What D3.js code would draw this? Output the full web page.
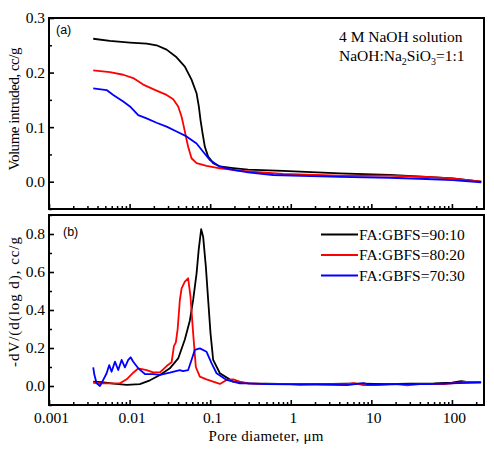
<!DOCTYPE html>
<html><head><meta charset="utf-8">
<script src="https://cdn.jsdelivr.net/npm/d3@7"></script>
<style>body{margin:0;background:#fff}svg{display:block}</style>
</head><body>
<svg id="c" width="494" height="449"></svg>
<script>
// ---- data ----
const seriesNames = ["FA:GBFS=90:10","FA:GBFS=80:20","FA:GBFS=70:30"];
const seriesColors = ["#000000","#ff0000","#0000ff"];
const xTickLabels = ["0.001","0.01","0.1","1","10","100"];
const xTickValues = [0.001,0.01,0.1,1,10,100];
const topTicks = [0.0,0.1,0.2,0.3];
const botTicks = [0.0,0.2,0.4,0.6,0.8];

// cumulative volume intruded (cc/g) vs pore diameter (µm)
const volBlack = [[0.00354,0.262],[0.0057,0.258],[0.0101,0.255],[0.0163,0.253],[0.0216,0.250],[0.0288,0.242],[0.0383,0.228],[0.0485,0.211],[0.0587,0.187],[0.0678,0.162],[0.0723,0.138],[0.0759,0.113],[0.0804,0.089],[0.0859,0.064],[0.0944,0.046],[0.109,0.034],[0.132,0.028],[0.193,0.025],[0.296,0.022],[0.8,0.020],[4.05,0.0154],[16.9,0.0123],[48,0.009],[102,0.006],[231,0.0]];
const volRed = [[0.00354,0.204],[0.0057,0.201],[0.00834,0.196],[0.0111,0.190],[0.01475,0.178],[0.0216,0.167],[0.0288,0.159],[0.0348,0.151],[0.0401,0.138],[0.0442,0.119],[0.0471,0.101],[0.0499,0.083],[0.0533,0.064],[0.0587,0.043],[0.0678,0.034],[0.0902,0.029],[0.132,0.0246],[0.193,0.0215],[0.296,0.019],[0.8,0.0141],[4.05,0.011],[16.9,0.011],[48,0.009],[102,0.006],[231,0.0]];
const volBlue = [[0.00354,0.171],[0.00519,0.168],[0.00627,0.159],[0.00834,0.147],[0.0101,0.138],[0.0128,0.122],[0.01626,0.116],[0.0216,0.108],[0.0288,0.101],[0.0383,0.092],[0.0509,0.083],[0.0678,0.070],[0.0818,0.055],[0.099,0.040],[0.132,0.0275],[0.193,0.0215],[0.296,0.017],[0.603,0.0123],[4.05,0.009],[16.9,0.0073],[48,0.005],[102,0.003],[231,-0.001]];

// differential intrusion -dV/d(log d) (cc/g) vs pore diameter (µm)
const difBlack = [[0.00354,0.023],[0.0045,0.02],[0.0063,0.012],[0.0092,0.006],[0.0134,0.01],[0.0179,0.03],[0.0238,0.058],[0.0316,0.093],[0.0401,0.145],[0.0485,0.245],[0.056,0.345],[0.0615,0.453],[0.0678,0.593],[0.072,0.716],[0.0773,0.825],[0.0818,0.786],[0.0884,0.628],[0.0944,0.453],[0.101,0.277],[0.109,0.137],[0.132,0.067],[0.193,0.023],[0.296,0.014],[0.5,0.012],[1,0.01],[1.3,0.008],[2,0.01],[5,0.012],[8,0.012],[15,0.01],[30,0.012],[60,0.014],[100,0.018],[130,0.025],[160,0.02],[230,0.02]];
const difRed = [[0.00354,0.017],[0.0047,0.014],[0.0076,0.014],[0.0092,0.035],[0.0111,0.07],[0.0128,0.093],[0.0163,0.084],[0.0196,0.072],[0.0238,0.072],[0.0288,0.105],[0.0332,0.125],[0.0355,0.21],[0.0375,0.23],[0.0395,0.3],[0.042,0.45],[0.0442,0.514],[0.0485,0.549],[0.0533,0.567],[0.057,0.47],[0.0615,0.277],[0.0664,0.10],[0.0744,0.049],[0.09,0.035],[0.109,0.023],[0.132,0.011],[0.16,0.032],[0.193,0.035],[0.233,0.023],[0.3,0.014],[0.5,0.01],[1.5,0.01],[5,0.01],[6,0.015],[8,0.005],[12,0.005],[20,0.01],[28,0.003],[40,0.01],[80,0.01],[150,0.022],[230,0.02]];
const difBlue = [[0.00354,0.098],[0.00365,0.06],[0.0039,0.014],[0.00429,0.0],[0.00471,0.032],[0.00519,0.067],[0.00559,0.11],[0.00598,0.075],[0.00658,0.128],[0.00723,0.084],[0.00796,0.137],[0.00875,0.098],[0.00962,0.137],[0.0103,0.151],[0.0111,0.128],[0.0128,0.093],[0.0155,0.063],[0.0196,0.062],[0.0238,0.058],[0.0316,0.07],[0.042,0.084],[0.046,0.078],[0.0533,0.084],[0.0587,0.137],[0.0645,0.19],[0.0744,0.198],[0.0902,0.18],[0.104,0.12],[0.12,0.067],[0.16,0.032],[0.233,0.014],[0.296,0.014],[0.5,0.01],[2,0.008],[5,0.005],[8,0.015],[9,0.008],[20,0.01],[50,0.01],[80,0.012],[120,0.015],[230,0.018]];

const topData = [volBlack, volRed, volBlue];
const botData = [difBlack, difRed, difBlue];

// ---- drawing ----
const svg = d3.select("#c");
const serif = "'Liberation Serif','Times New Roman',serif";
const sans = "'Liberation Sans',Arial,sans-serif";
const L = 49, R = 484;
const x = d3.scaleLog().domain([0.001, 250]).range([L, R]);
const yT = d3.scaleLinear().domain([-0.05, 0.3]).range([209, 18]);
const yB = d3.scaleLinear().domain([-0.1, 0.9]).range([405, 215]);

function minorX() {
  const v = [];
  for (let e = -3; e <= 2; e++) for (let k = 2; k <= 9; k++) { const t = k * Math.pow(10, e); if (t <= 250) v.push(t); }
  return v;
}

function panel(y, data, yMajor, yMinorStep, showXLabels, clipId) {
  const [y0, y1] = y.range();
  svg.append("clipPath").attr("id", clipId).append("rect")
    .attr("x", L).attr("y", y1).attr("width", R - L).attr("height", y0 - y1);
  const line = d3.line().x(d => x(d[0])).y(d => y(d[1]));
  const g = svg.append("g").attr("clip-path", `url(#${clipId})`);
  data.forEach((d, i) => {
    g.append("path").datum(d).attr("d", line).attr("fill", "none")
      .attr("stroke", seriesColors[i]).attr("stroke-width", 1.8).attr("stroke-linejoin", "round");
  });
  // x axis (ticks inside)
  const xa = d3.axisBottom(x).tickValues(xTickValues).tickSizeInner(-5).tickSizeOuter(0)
    .tickFormat((d, i) => showXLabels ? xTickLabels[i] : "");
  const gx = svg.append("g").attr("transform", `translate(0,${y0})`).call(xa);
  gx.select(".domain").remove();
  gx.selectAll("line").attr("stroke", "#000").attr("stroke-width", 1.6);
  gx.selectAll("text").attr("font-family", serif).attr("font-size", 15.5).attr("fill", "#000").attr("dy", 0).attr("y", 18).attr("dx", 2);
  const xm = d3.axisBottom(x).tickValues(minorX()).tickSizeInner(-3).tickSizeOuter(0).tickFormat("");
  const gxm = svg.append("g").attr("transform", `translate(0,${y0})`).call(xm);
  gxm.select(".domain").remove();
  gxm.selectAll("line").attr("stroke", "#000").attr("stroke-width", 1.5);
  // y axis
  const ya = d3.axisLeft(y).tickValues(yMajor).tickSizeInner(-5).tickSizeOuter(0).tickFormat(d3.format(".1f")).tickPadding(4);
  const gy = svg.append("g").attr("transform", `translate(${L},0)`).call(ya);
  gy.select(".domain").remove();
  gy.selectAll("line").attr("stroke", "#000").attr("stroke-width", 1.6);
  gy.selectAll("text").attr("font-family", serif).attr("font-size", 15.5).attr("fill", "#000");
  const dom = y.domain();
  const minors = d3.range(Math.ceil(dom[0] / yMinorStep), Math.floor(dom[1] / yMinorStep) + 1)
    .map(k => +(k * yMinorStep).toFixed(3)).filter(v => !yMajor.some(m => Math.abs(m - v) < 1e-6));
  const ym = d3.axisLeft(y).tickValues(minors).tickSizeInner(-3).tickSizeOuter(0).tickFormat("");
  const gym = svg.append("g").attr("transform", `translate(${L},0)`).call(ym);
  gym.select(".domain").remove();
  gym.selectAll("line").attr("stroke", "#000").attr("stroke-width", 1.5);
  // frame
  svg.append("rect").attr("x", L).attr("y", y1).attr("width", R - L).attr("height", y0 - y1)
    .attr("fill", "none").attr("stroke", "#000").attr("stroke-width", 2);
}

panel(yT, topData, topTicks, 0.05, false, "clipT");
panel(yB, botData, botTicks, 0.1, true, "clipB");

// panel labels
svg.append("text").attr("x", 56).attr("y", 34).text("(a)").attr("font-family", sans).attr("font-size", 12.5);
svg.append("text").attr("x", 63).attr("y", 236).text("(b)").attr("font-family", sans).attr("font-size", 12.5);

// annotation
const ann = svg.append("g").attr("font-family", serif).attr("font-size", 15.5).attr("fill", "#000");
ann.append("text").attr("x", 339).attr("y", 42).text("4 M NaOH solution");
const t2 = ann.append("text").attr("x", 339).attr("y", 61);
t2.append("tspan").text("NaOH:Na");
t2.append("tspan").text("2").attr("font-size", 10).attr("dy", 4);
t2.append("tspan").text("SiO").attr("dy", -4);
t2.append("tspan").text("3").attr("font-size", 10).attr("dy", 4);
t2.append("tspan").text("=1:1").attr("dy", -4);

// legend
const lg = svg.append("g");
seriesNames.forEach((n, i) => {
  const yy = 234.5 + i * 20.5;
  lg.append("line").attr("x1", 321).attr("x2", 358).attr("y1", yy).attr("y2", yy)
    .attr("stroke", seriesColors[i]).attr("stroke-width", 2);
  lg.append("text").attr("x", 359).attr("y", yy + 5).text(n)
    .attr("font-family", serif).attr("font-size", 15.5).attr("fill", "#000");
});

// axis titles
svg.append("text").attr("transform", "translate(19,109) rotate(-90)").attr("text-anchor", "middle")
  .attr("font-family", serif).attr("font-size", 15).attr("textLength", 123).attr("lengthAdjust", "spacing")
  .text("Volume intruded, cc/g");
svg.append("text").attr("transform", "translate(19,302) rotate(-90)").attr("text-anchor", "middle")
  .attr("font-family", serif).attr("font-size", 15).attr("textLength", 130).attr("lengthAdjust", "spacing")
  .text("-dV/(d(log d), cc/g");
svg.append("text").attr("x", 266).attr("y", 441).attr("text-anchor", "middle")
  .attr("font-family", serif).attr("font-size", 15).attr("textLength", 115).attr("lengthAdjust", "spacing")
  .text("Pore diameter, μm");
</script>
</body></html>
